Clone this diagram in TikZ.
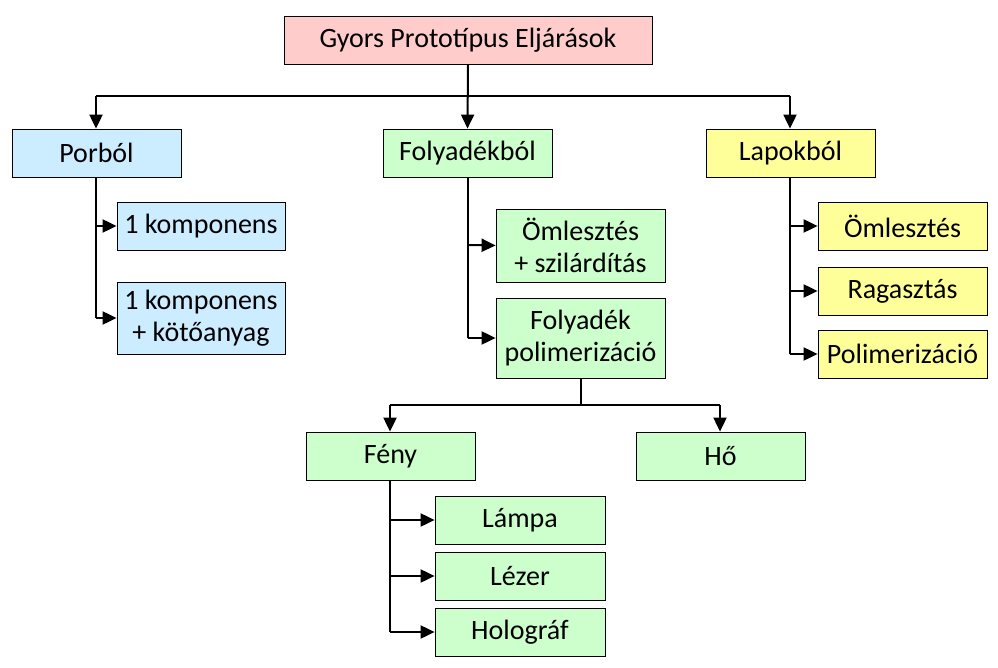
\documentclass[tikz,border=0pt]{standalone}
\usepackage{fontspec}
\setmainfont{Carlito}
\usetikzlibrary{arrows.meta}
\definecolor{cpink}{HTML}{FFCCCC}
\definecolor{cblue}{HTML}{CCECFF}
\definecolor{cgreen}{HTML}{CCFFCC}
\definecolor{cyellow}{HTML}{FFFF99}
\begin{document}
\begin{tikzpicture}[x=1pt,y=-1pt,
  box/.style={draw=black, line width=0.8pt, minimum height=48pt, minimum width=169pt, inner sep=0pt, align=center, font=\fontsize{28}{32}\selectfont},
  conn/.style={line width=2pt},
  arr/.style={line width=2pt, -{Triangle[length=14pt,width=13pt]}}]
\useasboundingbox (0,0) rectangle (998,668);
\node[box, fill=cpink, minimum width=368pt] (top) at (468,40) {Gyors Prototípus Eljárások};
\node[box, fill=cblue] (por) at (96.5,153) {Porból};
\node[box, fill=cgreen] (foly) at (467.5,153) {Folyadékból};
\node[box, fill=cyellow] (lap) at (790.5,153) {Lapokból};
\node[box, fill=cblue, minimum width=168pt] (k1) at (201,226) {1 komponens};
\node[box, fill=cblue, minimum width=168pt, minimum height=72pt] (k2) at (201,318) {1 komponens\\+ kötőanyag};
\node[box, fill=cgreen, minimum height=73pt] (oml) at (580.5,245.5) {Ömlesztés\\+ szilárdítás};
\node[box, fill=cgreen, minimum height=80pt] (fpol) at (580.5,338) {Folyadék\\polimerizáció};
\node[box, fill=cyellow] (l1) at (902.5,226) {Ömlesztés};
\node[box, fill=cyellow] (l2) at (902.5,291) {Ragasztás};
\node[box, fill=cyellow] (l3) at (902.5,354) {Polimerizáció};
\node[box, fill=cgreen] (feny) at (390.5,456) {Fény};
\node[box, fill=cgreen] (ho) at (720.5,456) {Hő};
\node[box, fill=cgreen, minimum width=170pt] (lampa) at (520,520) {Lámpa};
\node[box, fill=cgreen, minimum width=170pt] (lezer) at (520,576) {Lézer};
\node[box, fill=cgreen, minimum width=170pt] (holo) at (520,632) {Holográf};
% top level
\coordinate (h1) at (96,96);
\coordinate (h2) at (790,96);
\draw[arr] (top.south) -- (foly.north);
\draw[conn] (h1) -- (h2);
\draw[arr] (h1) -- (h1 |- por.north);
\draw[arr] (h2) -- (h2 |- lap.north);
% Porbol
\draw[conn] (por.south -| h1) -- (96,318);
\draw[arr] (96,226) -- (k1.west);
\draw[arr] (96,318) -- (k2.west);
% Folyadekbol
\draw[conn] (foly.south -| 468,0) -- (468,338);
\draw[arr] (468,245) -- (oml.west);
\draw[arr] (468,338) -- (fpol.west);
% Lapokbol
\draw[conn] (lap.south -| h2) -- (790,354);
\draw[arr] (790,226) -- (l1.west);
\draw[arr] (790,291) -- (l2.west);
\draw[arr] (790,354) -- (l3.west);
% Folyadek polimerizacio
\coordinate (p1) at (390,405);
\coordinate (p2) at (720,405);
\draw[conn] (fpol.south) -- (fpol.south |- p1);
\draw[conn] (p1) -- (p2);
\draw[arr] (p1) -- (p1 |- feny.north);
\draw[arr] (p2) -- (p2 |- ho.north);
% Feny
\draw[conn] (feny.south -| p1) -- (390,632);
\draw[arr] (390,520) -- (lampa.west);
\draw[arr] (390,576) -- (lezer.west);
\draw[arr] (390,632) -- (holo.west);
\end{tikzpicture}
\end{document}
